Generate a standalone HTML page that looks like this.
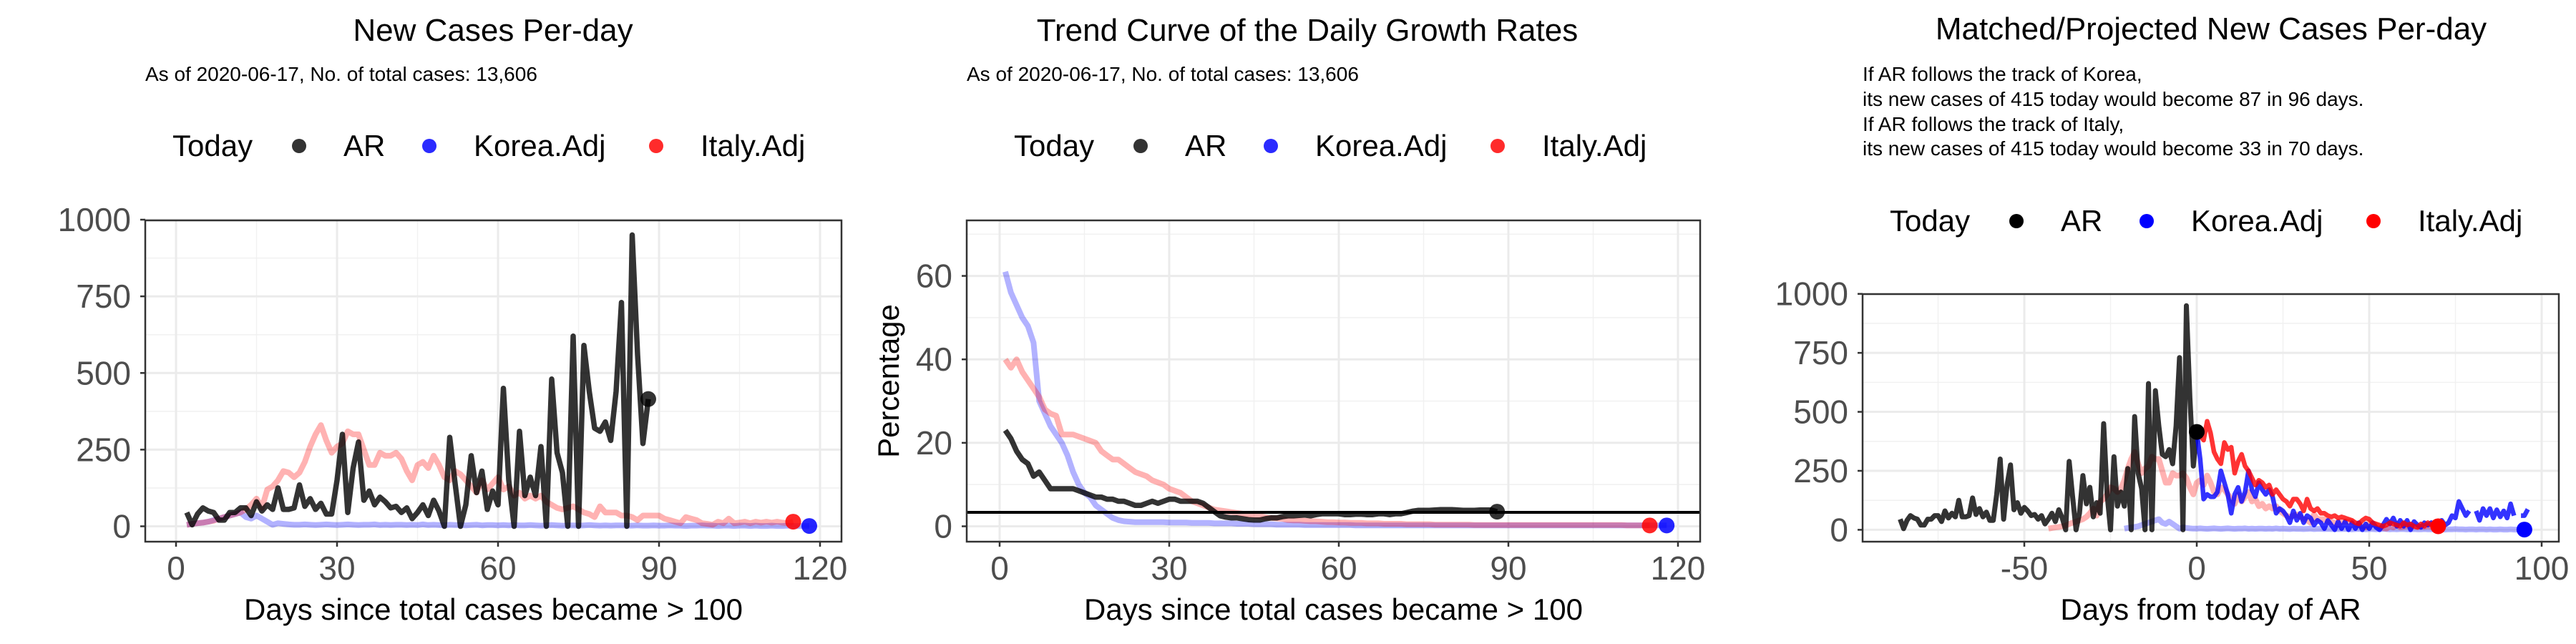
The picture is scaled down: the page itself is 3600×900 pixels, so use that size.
<!DOCTYPE html>
<html><head><meta charset="utf-8"><style>
html,body{margin:0;padding:0;background:#fff;}
svg{display:block;font-family:"Liberation Sans",Arial,sans-serif;}
</style></head><body>
<svg id="chart" width="3600" height="900" viewBox="0 0 3600 900" xmlns="http://www.w3.org/2000/svg">
<rect x="0" y="0" width="3600" height="900" fill="#fff"/>
<g>
<text x="689" y="57" font-size="44" text-anchor="middle">New Cases Per-day</text>
<text x="203" y="113" font-size="28">As of 2020-06-17, No. of total cases: 13,606</text>
</g>
<g>
<text x="1827" y="57" font-size="44" text-anchor="middle">Trend Curve of the Daily Growth Rates</text>
<text x="1351" y="113" font-size="28">As of 2020-06-17, No. of total cases: 13,606</text>
</g>
<g>
<text x="3090" y="55" font-size="44" text-anchor="middle">Matched/Projected New Cases Per-day</text>
<text font-size="28">
<tspan x="2603" y="113">If AR follows the track of Korea,</tspan>
<tspan x="2603" y="148">its new cases of 415 today would become 87 in 96 days.</tspan>
<tspan x="2603" y="183">If AR follows the track of Italy,</tspan>
<tspan x="2603" y="217">its new cases of 415 today would become 33 in 70 days.</tspan>
</text>
</g>
</svg>
<script>
// ---- data ----
const arDays = [2,88];
const arNew = [45,5,40,60,50,45,20,20,45,45,60,60,35,80,50,70,55,125,55,55,60,135,65,90,55,75,40,40,150,300,45,190,275,85,115,70,95,80,60,65,45,60,25,45,70,35,85,50,0,290,140,0,70,230,110,180,55,115,70,450,150,0,310,100,160,100,260,0,480,240,175,0,620,0,590,440,320,310,340,280,440,730,0,950,560,270,415];
const italyNew = [5,8,10,12,15,18,25,30,35,40,45,55,70,90,60,120,130,150,180,175,160,175,210,260,300,330,280,240,260,270,310,300,300,250,200,200,240,230,230,240,220,180,150,200,210,190,230,200,160,150,180,170,150,130,110,150,120,140,160,120,130,100,110,90,100,90,100,80,70,60,55,60,65,55,45,40,30,65,45,45,45,35,35,30,20,35,35,35,35,25,20,15,10,30,25,20,10,8,5,15,10,25,10,12,15,10,15,12,15,12,15,12,10,15];
const koreaNew = [5,8,10,12,15,20,25,30,35,40,45,30,25,35,25,15,5,10,8,6,5,5,6,5,4,5,6,5,4,5,6,5,4,5,5,6,4,5,4,5,5,4,5,4,6,4,5,4,3,5,4,4,3,4,5,3,4,4,3,4,3,4,3,3,4,3,2,3,4,3,2,3,3,2,3,4,3,2,3,2,3,3,2,2,3,2,2,3,2,2,3,2,2,1,2,2,3,2,2,1,2,2,1,2,2,1,2,1,1,2,1,1,2,1,1,1,1];
const arGrowth = [23,21,18,16,15,12,13,11,9,9,9,9,9,8.5,8,7.5,7,7,6.5,6.5,6,6,5.5,5,5,5.5,6,5.5,6,6.5,6.5,6,6,6,6,5.5,4.5,3.5,2.5,2.2,2,2,1.8,1.6,1.5,1.5,1.8,2,2,2.3,2.5,2.5,2.6,2.7,2.5,2.8,3,3,3,3,2.8,2.8,2.9,2.9,2.8,2.8,3,3,2.8,3,3,3.3,3.6,3.8,3.8,3.8,3.9,4,4,4,3.9,3.8,3.8,3.8,3.9,3.9,3.9,3.5];
const koreaGrowth = [61,56,53,50,48,44,30,27,24,22,20,17,13,10,8,7,5,4,3,2,1.5,1.2,1.1,1,1,1,1,1,1,0.9,0.9,0.9,0.9,0.8,0.8,0.8,0.8,0.7,0.7,0.7,0.7,0.6,0.6,0.6,0.5,0.5,0.5,0.5,0.4,0.4,0.4,0.4,0.4,0.3,0.3,0.3,0.3,0.3,0.3,0.3,0.3,0.3,0.2,0.2,0.2,0.2,0.2,0.2,0.2,0.2,0.2,0.2,0.2,0.2,0.2,0.2,0.2,0.2,0.2,0.2,0.2,0.2,0.2,0.2,0.2,0.2,0.2,0.2,0.2,0.2,0.2,0.2,0.2,0.2,0.2,0.2,0.2,0.2,0.2,0.2,0.2,0.2,0.2,0.2,0.2,0.2,0.2,0.2,0.2,0.2,0.2,0.2,0.2,0.2,0.2,0.2,0.2,0.2];
const italyGrowth = [40,38,40,37,35,33,31,28,27,26.5,22,22,22,21.5,21,20.5,20,18,17,16,16,15,14,13,12.5,12,11,10.5,10,9,8.5,8,7,6,5.5,5,4.5,4,3.8,3.6,3.4,3.2,3,2.8,2.6,2.4,2.2,2,1.9,1.8,1.5,1.4,1.4,1.3,1.2,1.2,1.1,1.0,1.0,0.9,0.9,0.8,0.8,0.8,0.7,0.7,0.7,0.6,0.6,0.6,0.6,0.5,0.5,0.5,0.5,0.5,0.4,0.4,0.4,0.4,0.4,0.4,0.4,0.3,0.3,0.3,0.3,0.3,0.3,0.3,0.3,0.3,0.3,0.3,0.3,0.3,0.3,0.3,0.3,0.3,0.3,0.3,0.3,0.3,0.3,0.3,0.3,0.3,0.3,0.3,0.2,0.2,0.2,0.2,0.2];
const growthRef = 3.34;
const koreaShift = -23;
const italyShift = -45;
const italyProj = [415,400,380,460,410,330,300,280,370,340,350,240,290,320,270,250,220,190,210,200,180,190,150,170,150,130,120,100,130,130,110,80,130,90,80,90,70,70,60,55,60,50,55,50,45,40,30,25,40,50,45,30,25,20,15,20,30,25,20,15,30,20,25,15,10,25,15,30,20,25,33];
const koreaProj = [415,300,130,150,140,140,160,250,200,150,70,150,180,120,160,250,170,140,200,170,150,170,140,70,90,80,60,30,80,40,70,30,60,50,20,40,30,5,40,20,0,35,5,35,0,30,5,30,0,25,5,30,10,0,20,45,25,50,15,40,15,40,0,35,20,10,30,20,30,15,10,40,20,30,60,50,120,90,60,80,null,80,40,90,60,90,50,85,55,80,50,110,60,null,60,60,87];
const yTicksCases = [0,250,500,750,1000];
const yTicksGrowth = [0,20,40,60];
const xTicksDays = [0,30,60,90,120];
const xTicksRel = [-50,0,50,100];

const NS = 'http://www.w3.org/2000/svg';
const svg = document.getElementById('chart');
function mk(tag, attrs, parent){const e=document.createElementNS(NS,tag);for(const k in attrs)e.setAttribute(k,attrs[k]);(parent||svg).appendChild(e);return e;}

function panel(cfg){
  const g = mk('g',{});
  
  
  const sx = v => cfg.x0 + (v - cfg.dx0) * cfg.kx;
  const sy = v => cfg.y0 - (v - cfg.dy0) * cfg.ky;
  const b = cfg.box;
  const gg = mk('g',{},g);
  
  
  cfg.xMinor.forEach(v=>{const x=sx(v); if(x>b.l&&x<b.r) mk('line',{x1:x,x2:x,y1:b.t,y2:b.b,stroke:'#f1f1f1','stroke-width':1.5},gg);});
  cfg.yMinor.forEach(v=>{const y=sy(v); if(y>b.t&&y<b.b) mk('line',{x1:b.l,x2:b.r,y1:y,y2:y,stroke:'#f1f1f1','stroke-width':1.5},gg);});
  cfg.xTicks.forEach(v=>mk('line',{x1:sx(v),x2:sx(v),y1:b.t,y2:b.b,stroke:'#ebebeb','stroke-width':3},gg));
  cfg.yTicks.forEach(v=>mk('line',{x1:b.l,x2:b.r,y1:sy(v),y2:sy(v),stroke:'#ebebeb','stroke-width':3},gg));
  const clipId = cfg.name+'-clip';
  const cp = mk('clipPath',{id:clipId},g); mk('rect',{x:b.l,y:b.t,width:b.r-b.l,height:b.b-b.t},cp);
  const plot = mk('g',{'clip-path':'url(#'+clipId+')'},g);
  function line(xs, ys, color, op, w, name){
    let d='', pen=false;
    for(let i=0;i<ys.length;i++){
      if(ys[i]===null){pen=false;continue;}
      d += (pen?'L':'M') + sx(xs[i]).toFixed(1) + ' ' + sy(ys[i]).toFixed(1) + ' ';
      pen=true;
    }
    const p = mk('path',{d:d,fill:'none',stroke:color,'stroke-opacity':op,'stroke-width':w,'stroke-linejoin':'round'},plot);
    
    
  }
  function dot(x,y,color,op,name){
    const c = mk('circle',{cx:sx(x),cy:sy(y),r:11,fill:color,'fill-opacity':op},plot);
    
    
  }
  cfg.draw(line, dot, sx, sy, plot);
  mk('rect',{x:b.l,y:b.t,width:b.r-b.l,height:b.b-b.t,fill:'none',stroke:'#333','stroke-width':2.5},g);
  cfg.yTicks.forEach((v,i)=>{
    mk('line',{x1:b.l-7,x2:b.l,y1:sy(v),y2:sy(v),stroke:'#333','stroke-width':2.5},g);
    const t = mk('text',{x:b.l-20,y:sy(v)+16,'font-size':46,fill:'#4d4d4d','text-anchor':'end'},g);
    t.textContent = cfg.yLabels[i];
    
    
  });
  cfg.xTicks.forEach((v,i)=>{
    mk('line',{x1:sx(v),x2:sx(v),y1:b.b,y2:b.b+7,stroke:'#333','stroke-width':2.5},g);
    const t = mk('text',{x:sx(v),y:810,'font-size':46,fill:'#4d4d4d','text-anchor':'middle'},g);
    t.textContent = cfg.xLabels[i];
    
    
  });
  const xt = mk('text',{x:(b.l+b.r)/2,y:866,'font-size':42,'text-anchor':'middle'},g);
  xt.textContent = cfg.xTitle;
  
  
  if(cfg.yTitle){
    const cy=(b.t+b.b)/2;
    const yt = mk('text',{x:cfg.yTitleX,y:cy,'font-size':42,'text-anchor':'middle',transform:'rotate(-90 '+cfg.yTitleX+' '+cy+')'},g);
    yt.textContent = cfg.yTitle;
    
    
  }
  const lg = mk('g',{},g);
  
  
  const ox = cfg.legendX, ly = cfg.legendY;
  const items = [['Today',null,0],['AR',cfg.legCols[0],418],['Korea.Adj',cfg.legCols[1],600],['Italy.Adj',cfg.legCols[2],917]];
  const tx = [241,480,662,979];
  items.forEach((it,i)=>{
    if(it[1]){
      const c = mk('circle',{cx:ox+it[2],cy:ly-14,r:10,fill:it[1]},lg);
      
      
    }
    const t = mk('text',{x:ox+tx[i],y:ly,'font-size':42},lg);
    t.textContent = it[0];
    
    
  });
}
function range(a,n){const r=[];for(let i=0;i<n;i++)r.push(a+i);return r;}

const arX = range(arDays[0], arNew.length);
const itX = range(2, italyNew.length);
const koX = range(2, koreaNew.length);

panel({name:'panel-new-cases', box:{l:203,r:1176,t:308,b:757},
  x0:246, dx0:0, kx:7.5, y0:735.5, dy0:0, ky:0.4285,
  xTicks:xTicksDays, xLabels:xTicksDays.map(String), xMinor:[15,45,75,105],
  yTicks:yTicksCases, yLabels:yTicksCases.map(String), yMinor:[125,375,625,875],
  xTitle:'Days since total cases became > 100', legendX:0, legendY:218,
  legCols:['#333','#2b2bff','#ff2b2b'],
  draw:(line,dot)=>{
    line(koX, koreaNew, '#0000ff', 0.3, 8, 'korea-adj-line');
    line(itX, italyNew, '#ff0000', 0.3, 8, 'italy-adj-line');
    line(arX, arNew, '#000', 0.8, 7.5, 'ar-line');
    dot(arX[arX.length-1], arNew[arNew.length-1], '#000', 0.8, 'ar-today-dot');
    dot(itX[itX.length-1], italyNew[italyNew.length-1], '#ff0000', 0.85, 'italy-today-dot');
    dot(koX[koX.length-1], koreaNew[koreaNew.length-1], '#0000ff', 0.85, 'korea-today-dot');
  }});

const arGX = range(1, arGrowth.length);
const koGX = range(1, koreaGrowth.length);
const itGX = range(1, italyGrowth.length);
panel({name:'panel-growth', box:{l:1351,r:2376,t:308,b:757},
  x0:1397, dx0:0, kx:7.9, y0:735.5, dy0:0, ky:5.832,
  xTicks:xTicksDays, xLabels:xTicksDays.map(String), xMinor:[15,45,75,105],
  yTicks:yTicksGrowth, yLabels:yTicksGrowth.map(String), yMinor:[10,30,50,70],
  xTitle:'Days since total cases became > 100', yTitle:'Percentage', yTitleX:1256,
  legendX:1176, legendY:218, legCols:['#333','#2b2bff','#ff2b2b'],
  draw:(line,dot,sx,sy,plot)=>{
    line(koGX, koreaGrowth, '#0000ff', 0.3, 8, 'korea-growth-line');
    line(itGX, italyGrowth, '#ff0000', 0.3, 8, 'italy-growth-line');
    line(arGX, arGrowth, '#000', 0.8, 7.5, 'ar-growth-line');
    const h = mk('line',{x1:1351,x2:2376,y1:sy(growthRef),y2:sy(growthRef),stroke:'#000','stroke-width':4},plot);
    
    
    dot(arGX[arGX.length-1], arGrowth[arGrowth.length-1], '#000', 0.8, 'ar-growth-dot');
    dot(itGX[itGX.length-1], italyGrowth[italyGrowth.length-1], '#ff0000', 0.85, 'italy-growth-dot');
    dot(koGX[koGX.length-1], koreaGrowth[koreaGrowth.length-1], '#0000ff', 0.85, 'korea-growth-dot');
  }});

const arRX = arX.map(d=>d-arDays[1]);
const itRX = itX.map(d=>d+italyShift);
const koRX = koX.map(d=>d+koreaShift);
const ipX = range(0, italyProj.length);
const kpX = range(0, koreaProj.length);
panel({name:'panel-projected', box:{l:2603,r:3576,t:411,b:757},
  x0:3070, dx0:0, kx:4.82, y0:740.4, dy0:0, ky:0.3297,
  xTicks:xTicksRel, xLabels:xTicksRel.map(String), xMinor:[-75,-25,25,75],
  yTicks:yTicksCases, yLabels:yTicksCases.map(String), yMinor:[125,375,625,875],
  xTitle:'Days from today of AR', legendX:2400, legendY:323,
  legCols:['#000','#0000ff','#ff0000'],
  draw:(line,dot)=>{
    line(koRX, koreaNew, '#0000ff', 0.3, 8, 'korea-matched-line');
    line(itRX, italyNew, '#ff0000', 0.3, 8, 'italy-matched-line');
    line(arRX, arNew, '#000', 0.8, 7, 'ar-line');
    line(kpX, koreaProj, '#0000ff', 0.8, 6.5, 'korea-projected-line');
    line(ipX, italyProj, '#ff0000', 0.8, 6.5, 'italy-projected-line');
    dot(0, arNew[arNew.length-1], '#000', 1, 'ar-today-dot');
    dot(itRX[itRX.length-1], italyNew[italyNew.length-1], '#ff0000', 1, 'italy-end-dot');
    dot(koRX[koRX.length-1], koreaNew[koreaNew.length-1], '#0000ff', 1, 'korea-end-dot');
  }});
</script>
</body></html>
